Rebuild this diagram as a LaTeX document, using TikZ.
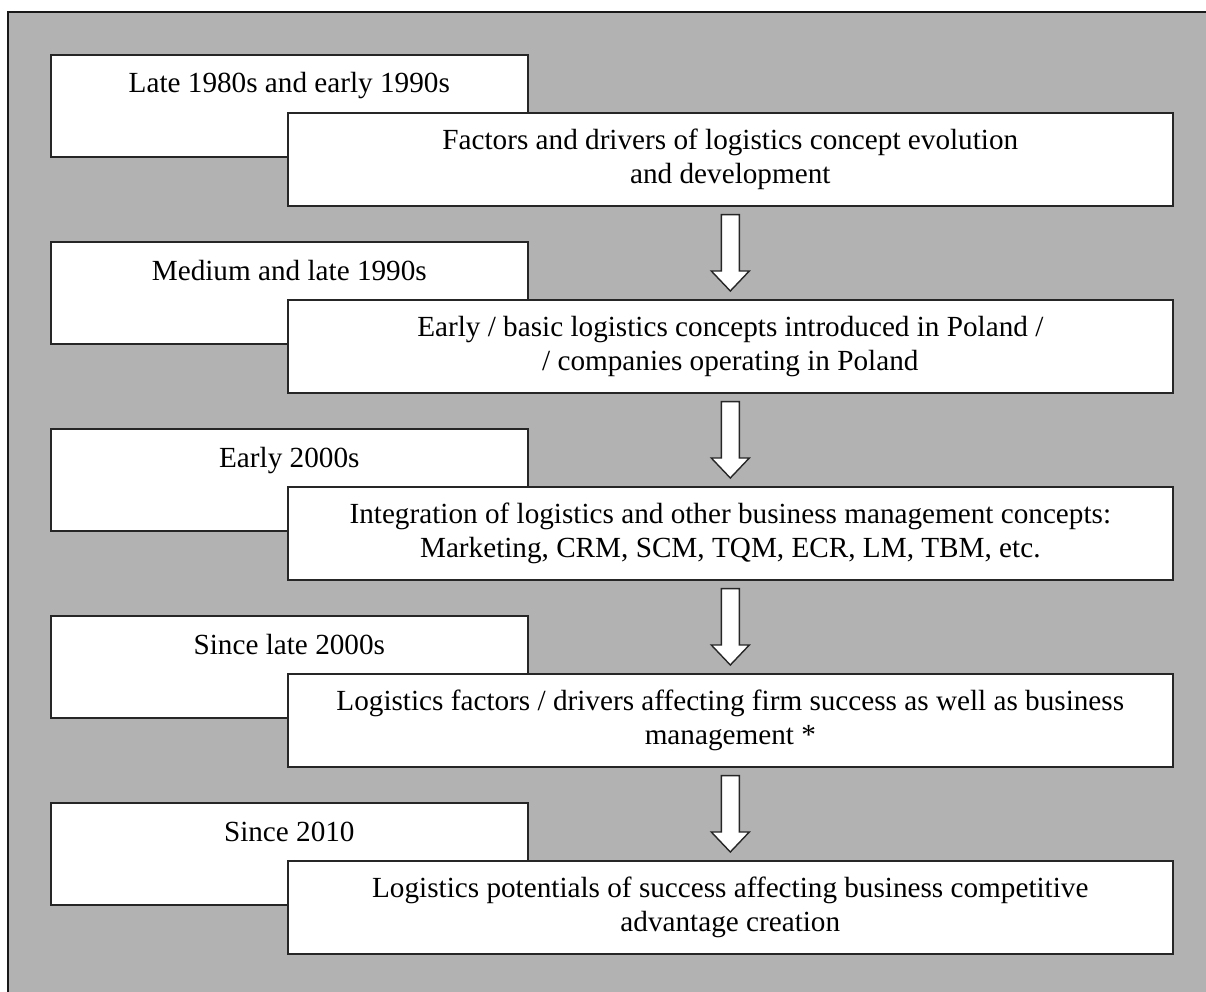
\documentclass[tikz,border=0pt]{standalone}
\usepackage{fontspec}
\setmainfont{Liberation Serif}
\usetikzlibrary{calc,positioning}
\definecolor{panel}{gray}{0.70}
\colorlet{edge}{black!85}

\begin{document}
\begin{tikzpicture}[x=1pt,y=-1pt,
  period/.style={draw=edge,line width=1.6pt,fill=white,minimum width=477pt,minimum height=102pt,inner sep=0pt,anchor=north west},
  stage/.style={draw=edge,line width=1.6pt,fill=white,minimum width=885pt,minimum height=93pt,inner sep=0pt,anchor=north west,align=center,font=\fontsize{29.2}{34.5}\selectfont},
  when/.style={anchor=base,font=\fontsize{29.2}{34.5}\selectfont},
  hollow/.style={draw=edge,line width=1.4pt,fill=white,line join=miter}]
\useasboundingbox (0,0) rectangle (1206,992);
% grey panel, cut off at right and bottom
\fill[white] (0,0) rectangle (1206,992);
\fill[panel] (8,12) rectangle (1206,992);
\draw[line width=1.8pt,black!90] (8,992) -- (8,12) -- (1206,12);
% periods with their stages
\node[period] (p1) at (50,54) {};
\node[when] (w1) at ([yshift=-39pt]p1.north) {Late 1980s and early 1990s};
\node[stage] (s1) at (287,112) {Factors and drivers of logistics concept evolution\\ and development};
\node[period] (p2) at (50,241) {};
\node[when] (w2) at ([yshift=-39pt]p2.north) {Medium and late 1990s};
\node[stage] (s2) at (287,299) {Early / basic logistics concepts introduced in Poland /\\ / companies operating in Poland};
\node[period] (p3) at (50,428) {};
\node[when] (w3) at ([yshift=-39pt]p3.north) {Early 2000s};
\node[stage] (s3) at (287,486) {Integration of logistics and other business management concepts:\\ Marketing, CRM, SCM, TQM, ECR, LM, TBM, etc.};
\node[period] (p4) at (50,615) {};
\node[when] (w4) at ([yshift=-39pt]p4.north) {Since late 2000s};
\node[stage] (s4) at (287,673) {Logistics factors / drivers affecting firm success as well as business\\ management *};
\node[period] (p5) at (50,802) {};
\node[when] (w5) at ([yshift=-39pt]p5.north) {Since 2010};
\node[stage] (s5) at (287,860) {Logistics potentials of success affecting business competitive\\ advantage creation};
% hollow arrows between the stages
\foreach \i/\j in {1/2,2/3,3/4,4/5}{
  \coordinate (t\i) at ($(s\i.south)+(0,8)$);
  \coordinate (h\i) at ($(s\j.north)+(0,-8)$);
  \draw[hollow] ($(t\i)+(-9,0)$) -- ($(h\i)+(-9,-20)$) -- ($(h\i)+(-19,-20)$) -- (h\i)
    -- ($(h\i)+(19,-20)$) -- ($(h\i)+(9,-20)$) -- ($(t\i)+(9,0)$) -- cycle;
}
\end{tikzpicture}
\end{document}
